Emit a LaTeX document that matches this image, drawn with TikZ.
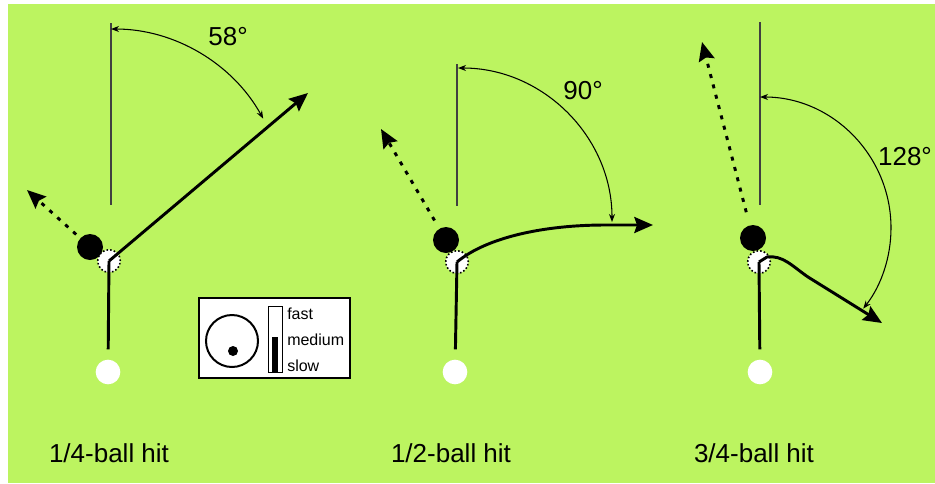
\documentclass[tikz,border=0pt]{standalone}
\usepackage{fontspec}
\setmainfont{Liberation Sans}
\usepackage{tikz}
\usetikzlibrary{arrows, arrows.meta, positioning}
\definecolor{felt}{RGB}{188,244,96}
\tikzstyle{cueball} = [circle, fill=white, minimum size=18.5pt, inner sep=0pt]
\tikzstyle{ghostball} = [circle, draw=black, dash pattern=on 1.2pt off 1.6pt, line width=1.2pt, fill=white, minimum size=17pt, inner sep=0pt]
\tikzstyle{objball} = [circle, fill=black, minimum size=19.5pt, inner sep=0pt]
\tikzstyle{stick} = [line width=2.2pt, shorten <=17pt]
\tikzstyle{shot} = [line width=2.2pt, -{Stealth[length=14pt,width=12pt,inset=2pt]}]
\tikzstyle{objshot} = [line width=2.2pt, dash pattern=on 3pt off 5pt, -{Stealth[length=14pt,width=12pt,inset=2pt]}]
\tikzstyle{refline} = [line width=1pt, draw=black!75]
\tikzstyle{anglearc} = [line width=0.8pt, {Stealth[length=6pt,width=4.5pt]}-{Stealth[length=6pt,width=4.5pt]}]
\tikzstyle{caption} = [font=\fontsize{19.5}{22}\selectfont, anchor=base, inner sep=0pt]
\tikzstyle{legendtext} = [font=\fontsize{12}{14}\selectfont, anchor=west, inner sep=0pt]

\begin{document}
\begin{tikzpicture}[x=0.75pt, y=-0.75pt]
\useasboundingbox (0,0) rectangle (935,483);
\fill [felt] (8,4) rectangle (935,483);

% 1/4-ball hit
\coordinate (r1t) at (111,23);
\coordinate (r1b) at (111,205);
\draw [refline] (r1t) -- (r1b);
\node (gb1) [ghostball] at (109,261) {};
\node (ob1) [objball] at (90,247) {};
\node (cb1) [cueball] at (108,372) {};
\coordinate (s1e) at (308,93);
\coordinate (o1e) at (27,190);
\draw [stick] (cb1.center) -- (gb1.center);
\draw [shot] (gb1.center) -- (s1e);
\draw [objshot, shorten <=14pt] (ob1.center) -- (o1e);
\coordinate (a1s) at (111,29);
\draw [anglearc] (a1s) arc[start angle=-90, end angle=-29, radius=174];
\node (ang1) [caption] at (228,45) {58°};
\node (cap1) [caption] at (109,462) {1/4-ball hit};

% 1/2-ball hit
\coordinate (r2t) at (457,64);
\coordinate (r2b) at (457,206);
\draw [refline] (r2t) -- (r2b);
\node (gb2) [ghostball] at (457,262) {};
\node (ob2) [objball] at (446,240) {};
\node (cb2) [cueball] at (455,372) {};
\coordinate (s2m) at (605,225);
\coordinate (s2e) at (653,225);
\coordinate (o2e) at (381,129);
\draw [stick] (cb2.center) -- (gb2.center);
\draw [shot] (gb2.center) .. controls +(30,-25) and +(-60,0) .. (s2m) -- (s2e);
\draw [objshot, shorten <=17pt] (ob2.center) -- (o2e);
\coordinate (a2s) at (458,68);
\draw [anglearc] (a2s) arc[start angle=-90, end angle=0, radius=154];
\node (ang2) [caption] at (583,99) {90°};
\node (cap2) [caption] at (451,462) {1/2-ball hit};

% 3/4-ball hit
\coordinate (r3t) at (760,22);
\coordinate (r3b) at (760,205);
\draw [refline] (r3t) -- (r3b);
\node (gb3) [ghostball] at (759,262) {};
\node (ob3) [objball] at (753,238) {};
\node (cb3) [cueball] at (760,372) {};
\coordinate (s3k) at (767,257);
\coordinate (s3m) at (808,277);
\coordinate (s3e) at (882,323);
\coordinate (o3e) at (702,42);
\draw [stick] (cb3.center) -- (gb3.center);
\draw [shot] (gb3.center) -- (s3k) .. controls +(16,-2) and +(-16,-11) .. (s3m) -- (s3e);
\draw [objshot, shorten <=20pt] (ob3.center) -- (o3e);
\coordinate (a3s) at (760,97);
\draw [anglearc] (a3s) arc[start angle=-90, end angle=38, radius=131];
\node (ang3) [caption] at (905,165) {128°};
\node (cap3) [caption] at (754,462) {3/4-ball hit};

% legend
\node (legend) [draw, line width=1.5pt, fill=white, minimum width=113pt, minimum height=60pt, inner sep=0pt] at (274.5,338) {};
\node (lgball) [circle, draw, line width=1.5pt, minimum size=39pt, inner sep=0pt] at (232,341) {};
\node (lgspot) [circle, fill=black, minimum size=7.5pt, inner sep=0pt] at (233,351) {};
\node (lgbar) [draw, line width=0.75pt, minimum width=10.5pt, minimum height=50pt, inner sep=0pt] at (275,339.5) {};
\node (lglevel) [fill=black, minimum width=4.5pt, minimum height=27pt, inner sep=0pt] at (275,355) {};
\node (lgfast) [legendtext] at (287,314) {fast};
\node (lgmed) [legendtext] at (287,340) {medium};
\node (lgslow) [legendtext] at (287,366) {slow};

\end{tikzpicture}
\end{document}
